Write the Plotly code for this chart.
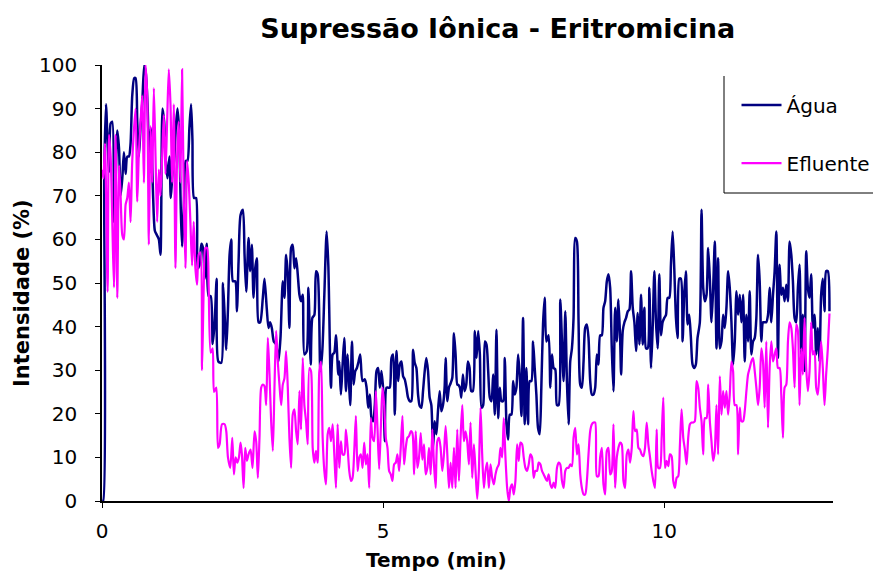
import plotly.graph_objects as go

# Água (navy) - tempo (min) e intensidade (%)
agua_t = [0.0, 0.02, 0.04, 0.071, 0.100, 0.124, 0.154, 0.183, 0.213, 0.242, 0.272, 0.302, 0.331, 0.361, 0.390,
          0.420, 0.449, 0.479, 0.508, 0.538, 0.573, 0.597, 0.627, 0.656, 0.686, 0.715, 0.751, 0.780, 0.810,
          0.839, 0.869, 0.910, 0.940, 0.975, 1.011, 1.040, 1.076, 1.105, 1.135, 1.164, 1.200, 1.223, 1.253,
          1.283, 1.312, 1.342, 1.371, 1.401, 1.424, 1.460, 1.489, 1.519, 1.554, 1.584, 1.608, 1.637, 1.673,
          1.702, 1.732, 1.767, 1.797, 1.826, 1.862, 1.897, 1.933, 1.968, 2.004, 2.039, 2.069,
          2.122, 2.151, 2.181, 2.210, 2.240, 2.269, 2.299, 2.329, 2.370, 2.399, 2.429, 2.464, 2.506, 2.535,
          2.565, 2.606, 2.636, 2.665, 2.695, 2.725, 2.754, 2.784, 2.813, 2.860, 2.890, 2.931, 2.961, 2.990,
          3.020, 3.055, 3.097, 3.138, 3.174, 3.215, 3.245, 3.274, 3.304, 3.333, 3.363, 3.392, 3.422, 3.452,
          3.481, 3.511, 3.540, 3.570, 3.599, 3.641, 3.670, 3.712, 3.741, 3.777, 3.806, 3.836, 3.883, 3.918,
          3.954, 3.995, 4.025, 4.072, 4.102, 4.131, 4.161, 4.202,
          4.220, 4.249, 4.279, 4.309, 4.338, 4.368, 4.397, 4.415, 4.445, 4.474, 4.504, 4.533, 4.563, 4.592,
          4.634, 4.675, 4.705, 4.734, 4.764, 4.793, 4.823, 4.852, 4.882, 4.911, 4.941, 4.970, 5.006, 5.030,
          5.059, 5.089, 5.118, 5.148, 5.177, 5.207, 5.236, 5.266, 5.296, 5.325, 5.355, 5.384, 5.414, 5.443,
          5.473, 5.502, 5.532, 5.561, 5.591, 5.621, 5.650, 5.680, 5.709, 5.739, 5.768, 5.798, 5.827, 5.857,
          5.887, 5.916, 5.946, 5.975, 6.005, 6.034, 6.064, 6.093, 6.111, 6.141, 6.170, 6.200, 6.229, 6.259,
          6.288, 6.318,
          6.330, 6.365, 6.389, 6.418, 6.448, 6.478, 6.507, 6.537, 6.566, 6.596, 6.631, 6.661, 6.690, 6.720,
          6.749, 6.779, 6.809, 6.838, 6.868, 6.897, 6.927, 6.956, 6.986, 7.015, 7.045, 7.074, 7.104, 7.134,
          7.163, 7.193, 7.222, 7.252, 7.281, 7.311, 7.340, 7.370, 7.400, 7.429, 7.459, 7.488, 7.518, 7.547,
          7.577, 7.606, 7.636, 7.666, 7.695, 7.725, 7.754, 7.784, 7.813, 7.843, 7.872, 7.902, 7.943, 7.973,
          8.002, 8.032, 8.061, 8.091, 8.121, 8.150, 8.180, 8.209, 8.239, 8.268, 8.298, 8.327, 8.357, 8.386,
          8.416, 8.446,
          8.475, 8.505, 8.534, 8.564, 8.593, 8.623, 8.652, 8.682, 8.712, 8.741, 8.771, 8.800, 8.830, 8.859,
          8.889, 8.918, 8.948, 8.978, 9.007, 9.037, 9.066, 9.096, 9.125, 9.155, 9.184, 9.214, 9.232, 9.261,
          9.291, 9.320, 9.350, 9.379, 9.409, 9.439, 9.468, 9.498, 9.527, 9.557, 9.586, 9.616, 9.645, 9.675,
          9.704, 9.734, 9.764, 9.793, 9.823, 9.852, 9.882, 9.911, 9.941, 9.970, 10.000, 10.030, 10.059,
          10.089, 10.118, 10.148, 10.177, 10.207, 10.236, 10.266, 10.295, 10.325, 10.354, 10.384, 10.414,
          10.443, 10.473, 10.502, 10.532, 10.561, 10.591,
          10.632, 10.662, 10.692, 10.721, 10.751, 10.780, 10.810, 10.839, 10.869, 10.898, 10.928, 10.957,
          10.987, 11.017, 11.046, 11.076, 11.105, 11.135, 11.164, 11.194, 11.223, 11.253, 11.283, 11.312,
          11.342, 11.371, 11.401, 11.430, 11.460, 11.489, 11.519, 11.548, 11.578, 11.608, 11.637, 11.667,
          11.696, 11.726, 11.755, 11.785, 11.814, 11.844, 11.873, 11.903, 11.933, 11.962, 11.992, 12.021,
          12.051, 12.080, 12.110, 12.139, 12.169, 12.199, 12.228, 12.258, 12.287, 12.317, 12.346, 12.376,
          12.405, 12.435, 12.464, 12.494, 12.524, 12.553, 12.583, 12.612, 12.642, 12.671, 12.701, 12.730,
          12.760, 12.789, 12.819, 12.849, 12.878, 12.908, 12.937]
agua_y = [0, 0, 75, 91, 82, 75.5, 86.6, 87, 64, 73, 85, 81, 70, 74, 80,
          75, 79, 79, 82, 93, 97, 97, 87, 79, 86, 91, 100, 98, 91,
          79, 85.5, 69.5, 62, 61, 60, 56.5, 90, 87, 78, 74, 79, 69.5, 75,
          78, 85.5, 90, 85, 67, 58.4, 69.5, 78, 78, 85.5, 91, 83, 69.5, 69.5,
          53.4, 54, 59, 58, 51, 59, 47, 47, 36, 41, 51, 32,
          31.7, 50, 42.7, 34.7, 44, 56.5, 60, 50.4, 50.4, 43.5, 55, 65.6, 66.8, 56.5,
          48, 60.3, 52.7, 58.8, 46.6, 53.4, 55.7, 41, 41, 46.6, 51, 44, 39.7, 41,
          39.7, 36.6, 35.9, 32, 37.4, 50.4, 46.6, 56.5, 52, 39.7, 58, 58.8, 53.4, 55.7,
          52, 47.3, 45.8, 47.3, 33.6, 34.4, 48.9, 31.3, 42, 42.7, 52.7, 52, 29.8, 34.4,
          47.3, 61.8, 54, 26, 33.6, 34, 38, 29,
          32, 24.4, 31.3, 37.4, 25.2, 33.6, 26, 22, 36.6, 26.7, 29.8, 30.5, 32, 33.6,
          27.5, 27.9, 26, 21.4, 24.4, 19, 18.3, 22, 29.8, 30.5, 26, 29.8, 24.4, 13.7,
          26, 26, 26, 32.8, 33.6, 19.8, 34.4, 27.5, 31.3, 32, 28.6, 27.9, 26, 23.7,
          22.9, 22.9, 34.7, 31.7, 30.5, 24.4, 21.8, 21.4, 25.2, 29.8, 32.8, 29.8, 23.7, 22,
          12.2, 18.3, 15.3, 20.6, 25.2, 20.6, 22, 26, 32.8, 22.9, 26, 27, 28.2, 38.5,
          33.6, 26.7,
          26.7, 26, 23.7, 29, 25.2, 26.7, 32, 30.5, 25.2, 25.2, 39, 32.8, 39, 33.6,
          21.4, 22, 36.6, 35.9, 29.8, 23.7, 22.9, 29, 19.8, 39.3, 19, 26, 22.9, 22.9,
          32.8, 17.6, 14.1, 19.8, 19.8, 27.5, 24.4, 26, 33.6, 29, 19.5, 42, 17.6, 30.5,
          17.6, 27.5, 27.5, 36.6, 30.5, 24.4, 16.8, 15.3, 26, 40.5, 46.6, 36.6, 38, 26,
          33.6, 30.5, 30.2, 22, 22, 46.2, 36.6, 27.5, 43.5, 27.5, 17.6, 32, 35, 42,
          60.3, 59.5,
          41, 26.7, 26, 32, 39.7, 40.5, 37.4, 27.5, 24.4, 24.4, 26, 33.6, 31.3, 38,
          38, 44.3, 45.8, 50.4, 52, 48.9, 35, 25.2, 44.3, 36.6, 46.2, 37.4, 29, 39,
          41, 42, 43.5, 43.9, 52.7, 44.3, 41, 34.4, 43.1, 35.9, 47.3, 35.9, 44.3, 35,
          35, 48.9, 30.5, 39.7, 52.7, 41, 35, 52, 38, 41, 42, 42.7, 46.6,
          46.6, 54.2, 61.8, 53.4, 42, 37.4, 51, 51, 36.6, 47.3, 52.7, 40.5,
          42.7, 37.4, 31.3, 30.5, 31.3, 37.4,
          41, 66.8, 48.9, 45.8, 47.3, 58, 51, 41, 48.9, 59.5, 35, 55.7,
          35, 36.6, 42.7, 39.7, 44.3, 52.7, 48.9, 41, 31.3, 36.6, 48.1, 42.7,
          47.3, 41, 47.3, 32, 42.7, 36.6, 48.1, 33.6, 36.6, 37.4, 42, 56.5,
          50.4, 36.6, 41, 41, 41, 42.7, 48.9, 41, 47.3, 52.7, 61.8, 32.8,
          54.2, 47.3, 48.9, 45.8, 49.6, 45.8, 59.5, 56.5, 50.4, 42, 41, 48.9,
          54.2, 33.6, 42.7, 29.8, 57.3, 48.9, 46.6, 52, 39.7, 42.7, 33.6, 39.7,
          32, 47.3, 51, 43.5, 52.7, 52.7, 43.5]

# Efluente (magenta)
efl_t = [0.0, 0.024, 0.053, 0.100, 0.124, 0.154, 0.183, 0.213, 0.242, 0.272, 0.302, 0.331, 0.361, 0.390,
         0.420, 0.449, 0.479, 0.508, 0.538, 0.597, 0.627, 0.656, 0.686, 0.715, 0.745, 0.774, 0.804, 0.833,
         0.863, 0.893, 0.922, 0.952, 0.981, 1.011, 1.040, 1.070, 1.099, 1.129, 1.158, 1.188, 1.218, 1.247,
         1.277, 1.306, 1.336, 1.365, 1.395, 1.424, 1.454, 1.484, 1.513, 1.543, 1.572, 1.602, 1.631, 1.661,
         1.690, 1.720, 1.749, 1.779, 1.809, 1.838, 1.868, 1.897, 1.933, 1.968, 1.992,
         2.033, 2.063, 2.092, 2.134, 2.181, 2.210, 2.240, 2.281, 2.317, 2.346, 2.376, 2.405, 2.435, 2.464,
         2.488, 2.518, 2.547, 2.577, 2.606, 2.642, 2.677, 2.713, 2.742, 2.772, 2.801, 2.831, 2.860, 2.890,
         2.920, 2.949, 2.979, 3.008, 3.038, 3.067, 3.097, 3.126, 3.156, 3.186, 3.215, 3.245, 3.274, 3.304,
         3.333, 3.363, 3.392, 3.422, 3.452, 3.481, 3.511, 3.540, 3.570, 3.599, 3.629, 3.658, 3.688, 3.717,
         3.747, 3.777, 3.806, 3.836, 3.865, 3.895, 3.924, 3.954, 3.983, 4.013, 4.042, 4.072, 4.102, 4.131,
         4.161, 4.190,
         4.220, 4.249, 4.279, 4.309, 4.338, 4.368, 4.397, 4.427, 4.456, 4.486, 4.515, 4.545, 4.575, 4.604,
         4.634, 4.663, 4.693, 4.722, 4.752, 4.781, 4.811, 4.840, 4.870, 4.899, 4.929, 4.959, 4.988, 5.018,
         5.047, 5.077, 5.106, 5.136, 5.165, 5.195, 5.225, 5.254, 5.284, 5.313, 5.343, 5.372, 5.402, 5.431,
         5.461, 5.491, 5.520, 5.550, 5.579, 5.609, 5.638, 5.668, 5.697, 5.727, 5.756, 5.786, 5.816, 5.845,
         5.875, 5.904, 5.934, 5.963, 5.993, 6.022, 6.052, 6.081, 6.111, 6.141, 6.170, 6.200, 6.229, 6.259,
         6.288, 6.318,
         6.348, 6.377, 6.407, 6.436, 6.466, 6.495, 6.525, 6.554, 6.584, 6.614, 6.643, 6.673, 6.702, 6.732,
         6.761, 6.791, 6.820, 6.850, 6.880, 6.909, 6.939, 6.968, 6.998, 7.027, 7.057, 7.086, 7.116, 7.145,
         7.175, 7.205, 7.234, 7.264, 7.293, 7.323, 7.352, 7.382, 7.411, 7.441, 7.471, 7.500, 7.530, 7.559,
         7.589, 7.618, 7.648, 7.677, 7.707, 7.737, 7.766, 7.796, 7.825, 7.855, 7.884, 7.914, 7.943, 7.973,
         8.002, 8.032, 8.061, 8.091, 8.121, 8.150, 8.180, 8.209, 8.239, 8.268, 8.298, 8.327, 8.357, 8.386,
         8.416, 8.446,
         8.475, 8.505, 8.534, 8.564, 8.593, 8.623, 8.652, 8.682, 8.712, 8.741, 8.771, 8.800, 8.830, 8.859,
         8.889, 8.918, 8.948, 8.978, 9.007, 9.037, 9.066, 9.096, 9.125, 9.155, 9.184, 9.214, 9.243, 9.273,
         9.302, 9.332, 9.362, 9.391, 9.421, 9.450, 9.480, 9.509, 9.539, 9.568, 9.598, 9.628, 9.657, 9.687,
         9.716, 9.746, 9.775, 9.805, 9.834, 9.864, 9.893, 9.923, 9.953, 9.982, 10.012, 10.041, 10.071,
         10.100, 10.130, 10.159, 10.189, 10.218, 10.248, 10.278, 10.307, 10.337, 10.366, 10.396, 10.425,
         10.455, 10.484, 10.514, 10.543, 10.573, 10.603,
         10.632, 10.662, 10.692, 10.721, 10.751, 10.780, 10.810, 10.839, 10.869, 10.898, 10.928, 10.957,
         10.987, 11.017, 11.046, 11.076, 11.105, 11.135, 11.164, 11.194, 11.223, 11.253, 11.283, 11.312,
         11.342, 11.371, 11.401, 11.430, 11.460, 11.489, 11.519, 11.548, 11.578, 11.608, 11.637, 11.667,
         11.696, 11.726, 11.755, 11.785, 11.814, 11.844, 11.873, 11.903, 11.933, 11.962, 11.992, 12.021,
         12.051, 12.080, 12.110, 12.139, 12.169, 12.199, 12.228, 12.258, 12.287, 12.317, 12.346, 12.376,
         12.405, 12.435, 12.464, 12.494, 12.524, 12.553, 12.583, 12.612, 12.642, 12.671, 12.701, 12.730,
         12.760, 12.789, 12.819, 12.849, 12.878, 12.908, 12.937]
efl_y = [76, 74, 82, 48, 84, 79, 64, 49, 84, 46.6, 77, 70, 61, 60,
         68, 69.5, 73, 64, 78, 90, 68.7, 80, 87, 93, 73, 100, 93, 58.8,
         86, 73, 94.7, 79, 64, 76, 70, 79, 88.5, 75, 87, 99, 91, 73,
         91, 53.4, 79, 87, 73, 99, 69.5, 53.4, 78, 73, 64, 54, 64, 53.4,
         49.6, 56.5, 57, 30, 49, 58, 58, 49, 34, 35, 25,
         26, 12.2, 13, 17.6, 17.6, 16, 10, 7.6, 14.5, 6.1, 10, 8.8, 10, 13.4,
         10.7, 3, 12.2, 9.2, 10.7, 11.8, 7.6, 16, 13.7, 5.3, 14.5, 26, 26.7, 26.3,
         22, 37.4, 29, 18.3, 11.5, 26, 39, 32, 26.7, 22, 26.7, 28.2, 34.4, 26,
         14.5, 7.6, 19.8, 21, 16, 13, 25.2, 16.4, 32.8, 22, 18.3, 13, 30.5, 29.8,
         12.2, 8.8, 11.5, 8.8, 29.8, 32, 14.5, 6.9, 3.8, 15.3, 16.8, 13.7, 17.6, 10.7,
         3, 17.6,
         7.6, 13.7, 10.7, 10.7, 16.4, 12.2, 6.9, 4.6, 5.3, 11.5, 19.5, 6.9, 10, 10.7,
         7.6, 13.4, 8.4, 10.7, 3, 19, 14.5, 13.7, 25.2, 16.8, 7.3, 16.8, 26, 22,
         14.5, 12.2, 6.9, 6.1, 4.6, 8.4, 8.8, 10.7, 6.9, 12.2, 19.5, 8.4, 12.2, 14.5,
         14.9, 16, 15.6, 6.1, 16, 7.6, 10, 15.6, 9.5, 13, 6.1, 7.6, 12.2, 6.1,
         16.4, 8.4, 3, 13.7, 14.5, 12.2, 6.9, 10.7, 17.2, 10.7, 3, 8.8, 3, 12.2,
         3, 16.4,
         4.6, 14.5, 22, 13.7, 16, 13.7, 8.4, 18, 5.3, 13, 6.9, 0.5, 6.9, 21.4,
         10.7, 3, 6.9, 8.8, 3, 8.4, 5.3, 3.8, 6.1, 7.6, 8.4, 12.2, 10, 19,
         10, 3, 0, 3, 3.8, 1.5, 4.6, 13, 9.2, 13.4, 13, 10, 7.6, 6.9,
         8.4, 10.7, 10, 5.3, 6.9, 6.9, 8.8, 8.4, 6.9, 6.1, 5.3, 4.6, 6.1, 3.8,
         3, 4.2, 3, 7.6, 8.8, 8.4, 4.6, 3, 6.9, 7.6, 7.6, 8.4, 8, 14.5,
         16.8, 10.7,
         13, 6.1, 3, 1.5, 1.5, 4.6, 10.7, 16, 17.6, 18, 18, 5.7, 5.7, 10,
         12.2, 3.8, 1.5, 11.5, 12.2, 6.1, 6.9, 17.6, 3, 10, 12.2, 13.4, 13, 4.6,
         3, 10.7, 11.8, 8.8, 12.2, 20.6, 16, 16.4, 12.2, 11.8, 10.7, 10.3, 12.2, 18,
         13, 10, 6.9, 4.6, 3, 16.4, 7.6, 7.6, 14.5, 23.7, 7.6, 9.2, 8,
         10.7, 10.3, 4.6, 3, 5.3, 5.7, 13, 21, 14.5, 11.8, 8.4, 14.5,
         17.6, 18, 18, 18.3, 27.5, 26,
         21.4, 18.3, 10.7, 19, 19, 26.7, 18.3, 13.7, 9.2, 11.5, 22, 10.7,
         28.6, 19.8, 25.2, 21.4, 25.2, 19.8, 24.4, 32, 29.8, 22, 22, 10.7,
         21.4, 18.3, 18.3, 20.6, 25.2, 29, 30.5, 32, 32.8, 29.8, 26, 22,
         26, 35, 32, 21.4, 36.6, 16.8, 30.5, 36.6, 32, 33.6, 35, 30.5,
         30.5, 24.4, 14.5, 26, 26.7, 36.6, 41, 39.7, 35, 26, 40.5, 39,
         22, 35, 29, 42, 30.5, 25.2, 29.8, 41, 33.6, 34.4, 26, 24.4,
         29.8, 36.6, 30.5, 22, 29, 35, 43]

x_ticks = [0, 5, 10]
y_ticks = [0, 10, 20, 30, 40, 50, 60, 70, 80, 90, 100]

fig = go.Figure()
fig.add_trace(go.Scatter(x=agua_t, y=agua_y, mode='lines', name='Água',
                         line=dict(color='#000080', width=2.5, shape='spline', smoothing=0.7),
                         legend='legend'))
fig.add_trace(go.Scatter(x=efl_t, y=efl_y, mode='lines', name='Efluente',
                         line=dict(color='#FF00FF', width=2.2, shape='spline', smoothing=0.7),
                         legend='legend2'))

# the page body adds an 8px offset, so the figure is 8px smaller than the window
fnt = 'DejaVu Sans, Arial, sans-serif'
fig.update_layout(
    width=873, height=565,
    margin=dict(l=94, r=48, t=57, b=72, autoexpand=False),
    paper_bgcolor='white', plot_bgcolor='white',
    font=dict(family=fnt, color='black', size=18),
    title=dict(text='<b>Supressão Iônica - Eritromicina</b>', x=0.561, xanchor='center',
               y=0.963, yanchor='middle', font=dict(size=27, color='black')),
    legend=dict(x=0.868, y=0.908, xanchor='left', yanchor='middle', bgcolor='rgba(0,0,0,0)',
                font=dict(size=20), itemwidth=40),
    legend2=dict(x=0.868, y=0.775, xanchor='left', yanchor='middle', bgcolor='rgba(0,0,0,0)',
                 font=dict(size=20), itemwidth=40),
    showlegend=True,
)
fig.update_xaxes(range=[0, 13], tickvals=x_ticks, ticks='outside', ticklen=5, showgrid=False,
                 zeroline=False, showline=True, linecolor='black', linewidth=1.5, tickcolor='black',
                 tickfont=dict(size=20), ticklabelstandoff=6, automargin=False)
fig.update_yaxes(range=[0, 100], tickvals=y_ticks, ticks='outside', ticklen=5, showgrid=False,
                 zeroline=False, showline=True, linecolor='black', linewidth=1.5, tickcolor='black',
                 tickfont=dict(size=20), ticklabelstandoff=14, automargin=False)

# axis titles
fig.add_annotation(text='<b>Tempo (min)</b>', xref='paper', yref='paper', x=(436 - 102) / 731,
                   y=-(560 - 501) / 436, xanchor='center', yanchor='middle', showarrow=False,
                   font=dict(size=20))
fig.add_annotation(text='<b>Intensidade (%)</b>', xref='paper', yref='paper', x=-(102 - 22) / 731,
                   y=(501 - 293) / 436, xanchor='center', yanchor='middle', showarrow=False,
                   textangle=-90, font=dict(size=21))

# legend frame (left and bottom edges only)
lx = (724 - 102) / 731
fig.add_shape(type='line', xref='paper', yref='paper', x0=lx, x1=lx, y0=(501 - 76) / 436,
              y1=(501 - 193) / 436, line=dict(color='black', width=1))
fig.add_shape(type='line', xref='paper', yref='paper', x0=lx, x1=(881 - 102) / 731,
              y0=(501 - 193) / 436, y1=(501 - 193) / 436, line=dict(color='black', width=1))

fig.write_html('out.html')
